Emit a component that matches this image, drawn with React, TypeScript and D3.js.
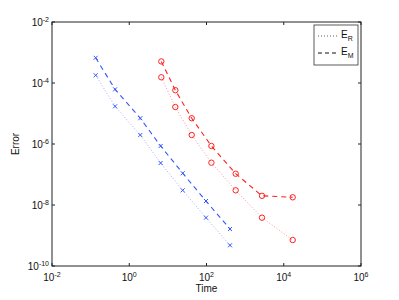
import React from 'react';
import * as d3 from 'd3';

// blue series (x markers)
const blueTime = [0.135, 0.43, 1.93, 6.5, 24.2, 97, 406];
const blueEM = [6.7e-4, 6.2e-5, 7.0e-6, 8.6e-7, 1.1e-7, 1.35e-8, 1.63e-9];
const blueER = [1.79e-4, 1.72e-5, 1.97e-6, 2.38e-7, 3.03e-8, 3.84e-9, 4.78e-10];

// red series (circle markers)
const redTime = [6.76, 15.6, 41.4, 134, 570, 2735, 17060];
const redEM = [5.1e-4, 5.8e-5, 7.0e-6, 8.6e-7, 1.06e-7, 2.0e-8, 1.79e-8];
const redER = [1.54e-4, 1.63e-5, 1.97e-6, 2.44e-7, 3.03e-8, 3.84e-9, 7.1e-10];

const xTicks = [-2, 0, 2, 4, 6];
const yTicks = [-10, -8, -6, -4, -2];

const BLUE = '#3355ff';
const RED = '#ff2020';
const FONT = '"Liberation Sans", Arial, sans-serif';

export default function App() {
  const width = 399;
  const height = 300;
  const margin = { top: 22, left: 52, right: 38, bottom: 34 };
  const x = d3.scaleLog().domain([1e-2, 1e6]).range([margin.left, width - margin.right]);
  const y = d3.scaleLog().domain([1e-10, 1e-2]).range([height - margin.bottom, margin.top]);
  const x0 = margin.left, x1 = width - margin.right;
  const y0 = height - margin.bottom, y1 = margin.top;

  const line = d3.line<[number, number]>().x(d => x(d[0])).y(d => y(d[1]));
  const zip = (a: number[], b: number[]) => a.map((v, i) => [v, b[i]] as [number, number]);

  const series = [
    { pts: zip(blueTime, blueEM), color: BLUE, dash: '5,4', marker: 'x' },
    { pts: zip(blueTime, blueER), color: BLUE, dash: '1,2', marker: 'x' },
    { pts: zip(redTime, redEM), color: RED, dash: '5,4', marker: 'o' },
    { pts: zip(redTime, redER), color: RED, dash: '1,2', marker: 'o' },
  ];

  return (
    <svg width={width} height={height} style={{ position: 'absolute', left: 0, top: 0, background: '#fff' }} fontFamily={FONT}>
      <rect x={0} y={0} width={width} height={height} fill="#fff" />
      {series.map((s, i) => (
        <g key={i}>
          <path d={line(s.pts) || ''} fill="none" stroke={s.color} strokeWidth={s.dash === '1,2' ? 0.8 : 1.1}
            strokeDasharray={s.dash} opacity={s.dash === '1,2' ? 0.6 : 1} />
          {s.pts.map((p, j) => s.marker === 'o' ? (
            <circle key={j} cx={x(p[0])} cy={y(p[1])} r={2.7} fill="none" stroke={s.color} strokeWidth={1} />
          ) : (
            <g key={j} stroke={s.color} strokeWidth={1}>
              <line x1={x(p[0]) - 2} y1={y(p[1]) - 2} x2={x(p[0]) + 2} y2={y(p[1]) + 2} />
              <line x1={x(p[0]) - 2} y1={y(p[1]) + 2} x2={x(p[0]) + 2} y2={y(p[1]) - 2} />
            </g>
          ))}
        </g>
      ))}
      {/* axes box */}
      <rect x={x0} y={y1} width={x1 - x0} height={y0 - y1} fill="none" stroke="#222" strokeWidth={1} />
      {xTicks.map(t => (
        <g key={'x' + t}>
          <line x1={x(10 ** t)} x2={x(10 ** t)} y1={y0} y2={y0 - 3} stroke="#222" />
          <line x1={x(10 ** t)} x2={x(10 ** t)} y1={y1} y2={y1 + 3} stroke="#222" />
          <text x={x(10 ** t)} y={y0 + 15} fontSize={10} textAnchor="middle" fill="#111">
            <tspan>10</tspan>
            <tspan fontSize={7} dy={-4}>{t}</tspan>
          </text>
        </g>
      ))}
      {yTicks.map(t => (
        <g key={'y' + t}>
          <line x1={x0} x2={x0 + 3} y1={y(10 ** t)} y2={y(10 ** t)} stroke="#222" />
          <line x1={x1} x2={x1 - 3} y1={y(10 ** t)} y2={y(10 ** t)} stroke="#222" />
          <text x={x0 - 3} y={y(10 ** t) + 4} fontSize={10} textAnchor="end" fill="#111">
            <tspan>10</tspan>
            <tspan fontSize={7} dy={-4}>{t}</tspan>
          </text>
        </g>
      ))}
      <text x={(x0 + x1) / 2} y={y0 + 26} fontSize={10} textAnchor="middle" fill="#111">Time</text>
      <text transform={`translate(19,${(y0 + y1) / 2}) rotate(-90)`} fontSize={10} textAnchor="middle" fill="#111">Error</text>
      {/* legend */}
      <g>
        <rect x={314} y={25} width={44} height={40} fill="#fff" stroke="#333" strokeWidth={0.8} />
        <line x1={318} x2={338} y1={36} y2={36} stroke="#333" strokeWidth={0.8} strokeDasharray="1,2" />
        <text x={341} y={38} fontSize={10} fill="#111">E<tspan fontSize={7} dy={3}>R</tspan></text>
        <line x1={318} x2={338} y1={53} y2={53} stroke="#111" strokeWidth={1} strokeDasharray="4,3" />
        <text x={341} y={55} fontSize={10} fill="#111">E<tspan fontSize={7} dy={3}>M</tspan></text>
      </g>
    </svg>
  );
}
